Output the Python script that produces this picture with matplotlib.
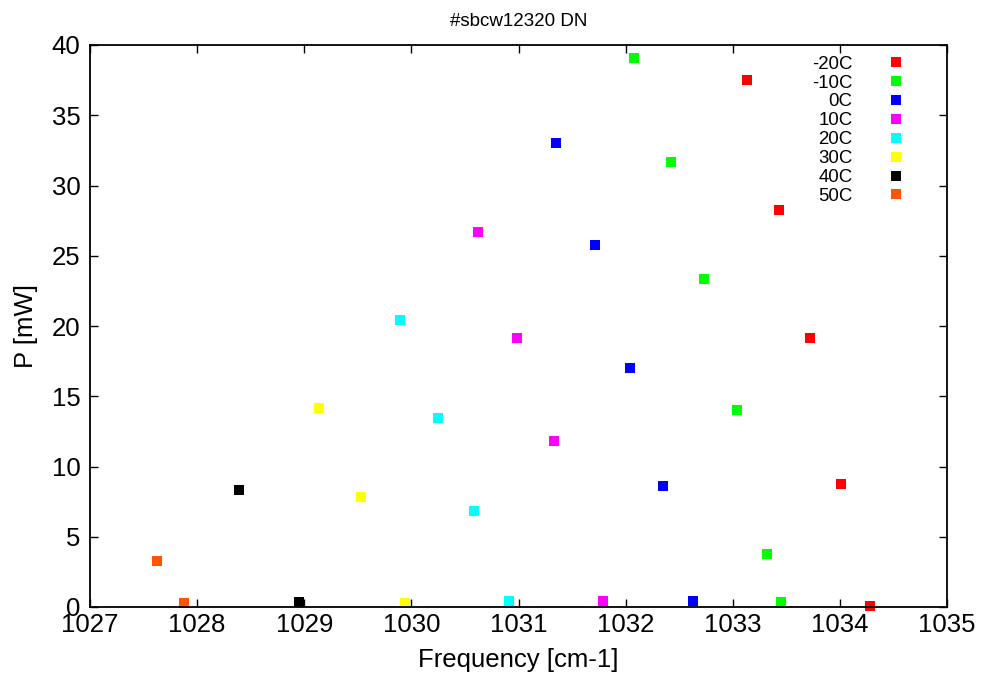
import matplotlib
matplotlib.use("Agg")
import matplotlib.pyplot as plt

plt.rcParams['font.family'] = ['Liberation Sans', 'DejaVu Sans']

labels = ["-20C", "-10C", "0C", "10C", "20C", "30C", "40C", "50C"]
colors = ["#ff0000", "#00ff00", "#0000ff", "#ff00ff", "#00ffff", "#ffff00", "#000000", "#ff5500"]

freq_m20 = [1033.13, 1033.43, 1033.72, 1034.01, 1034.28]
pow_m20 = [37.5, 28.25, 19.15, 8.75, 0.1]
freq_m10 = [1032.08, 1032.42, 1032.73, 1033.04, 1033.32, 1033.45]
pow_m10 = [39.1, 31.65, 23.35, 14.0, 3.8, 0.35]
freq_0 = [1031.35, 1031.71, 1032.04, 1032.35, 1032.63]
pow_0 = [33.0, 25.75, 17.0, 8.6, 0.45]
freq_10 = [1030.62, 1030.99, 1031.33, 1031.79]
pow_10 = [26.7, 19.15, 11.8, 0.45]
freq_20 = [1029.89, 1030.25, 1030.58, 1030.91]
pow_20 = [20.4, 13.45, 6.85, 0.45]
freq_30 = [1029.14, 1029.53, 1029.94]
pow_30 = [14.15, 7.85, 0.3]
freq_40 = [1028.39, 1028.95]
pow_40 = [8.35, 0.35]
freq_50 = [1027.63, 1027.88]
pow_50 = [3.25, 0.3]

series_x = [freq_m20, freq_m10, freq_0, freq_10, freq_20, freq_30, freq_40, freq_50]
series_y = [pow_m20, pow_m10, pow_0, pow_10, pow_20, pow_30, pow_40, pow_50]

xticks = [1027, 1028, 1029, 1030, 1031, 1032, 1033, 1034, 1035]
yticks = [0, 5, 10, 15, 20, 25, 30, 35, 40]

fig = plt.figure(figsize=(9.85, 6.77), dpi=100)
ax = fig.add_axes([90/985, 70/677, 857/985, 562/677])

for xs, ys, lab, col in zip(series_x, series_y, labels, colors):
    ax.plot(xs, ys, linestyle='none', marker='s', markersize=6.5,
            markeredgewidth=0, color=col, label=lab, clip_on=False)

ax.set_xlim(1027, 1035)
ax.set_ylim(0, 40)
ax.set_xticks(xticks)
ax.set_yticks(yticks)
ax.set_xticklabels([str(t) for t in xticks])
ax.set_yticklabels([str(t) for t in yticks])
ax.tick_params(direction='in', length=6, width=1, top=True, right=True,
               labelsize=18.5, colors='black')
ax.tick_params(axis='x', pad=4)
ax.tick_params(axis='y', pad=7)
for s in ax.spines.values():
    s.set_linewidth(1.3)

ax.set_xlabel("Frequency [cm-1]", fontsize=18.5, labelpad=8)
ax.set_ylabel("P [mW]", fontsize=18.5, labelpad=10)
ax.set_title("#sbcw12320 DN", fontsize=13.5, pad=14)

leg = ax.legend(loc='upper right', bbox_to_anchor=(0.9627, 0.981),
                frameon=False, markerfirst=False, fontsize=13.4,
                handlelength=2, handletextpad=1.35, labelspacing=0.1,
                borderpad=0, borderaxespad=0)

fig.savefig("out.png", dpi=100)
